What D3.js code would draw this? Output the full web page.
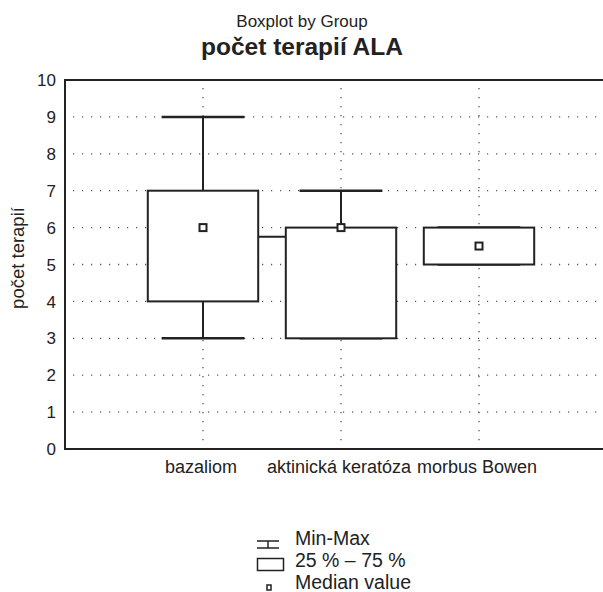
<!DOCTYPE html>
<html>
<head>
<meta charset="utf-8">
<script src="https://cdn.jsdelivr.net/npm/d3@7"></script>
<style>
  body { margin: 0; background: #fff; }
  text { font-family: "Liberation Sans", Arial, sans-serif; fill: #222; }
</style>
</head>
<body>
<script>
// ---------------- data ----------------
var groups = ['bazaliom', 'aktinická keratóza', 'morbus Bowen'];
var mins    = [3, 3, 5];
var q1s     = [4, 3, 5];
var medians = [6, 6, 5.5];
var q3s     = [7, 6, 6];
var maxs    = [9, 7, 6];
var yTicks  = [0, 1, 2, 3, 4, 5, 6, 7, 8, 9, 10];
var connector = [5.75, 5.75]; // short link between group 1 and 2, hidden by the boxes
var legendLabels = ['Min-Max', '25 % \u2013 75 %', 'Median value'];

// ---------------- layout ----------------
var W = 603, H = 592;
var plot = {left: 65, top: 80, right: 617, bottom: 449};

var svg = d3.select('body').append('svg').attr('width', W).attr('height', H);

var x = d3.scaleLinear().domain([0, groups.length + 1]).range([plot.left, plot.right]);
var y = d3.scaleLinear().domain([0, 10]).range([plot.bottom, plot.top]);
var step = x(1) - x(0);

// titles
svg.append('text').attr('x', 302).attr('y', 27).attr('text-anchor', 'middle')
   .style('font-size', '17px').text('Boxplot by Group');
svg.append('text').attr('x', 302).attr('y', 55).attr('text-anchor', 'middle')
   .style('font-size', '24.5px').style('font-weight', 'bold').text('počet terapií ALA');

// grid
var grid = svg.append('g').attr('stroke', '#555').attr('stroke-width', 1.3).attr('stroke-dasharray', '1.2,7.8');
grid.selectAll('line.h').data(yTicks.filter(d => d > 0 && d < 10)).enter().append('line')
    .attr('x1', plot.left + 8).attr('x2', plot.right).attr('y1', d => y(d)).attr('y2', d => y(d));
grid.selectAll('line.v').data(groups).enter().append('line')
    .attr('x1', (d, i) => x(i + 1)).attr('x2', (d, i) => x(i + 1))
    .attr('y1', plot.top + 8).attr('y2', plot.bottom);

// frame
svg.append('rect').attr('x', plot.left).attr('y', plot.top)
   .attr('width', plot.right - plot.left).attr('height', plot.bottom - plot.top)
   .attr('fill', 'none').attr('stroke', '#222').attr('stroke-width', 2);

// y axis labels
svg.append('g').selectAll('text').data(yTicks).enter().append('text')
   .attr('x', 56).attr('y', d => y(d)).attr('dy', '0.36em').attr('text-anchor', 'end')
   .style('font-size', '17px').text(d => d);

svg.append('text').attr('transform', 'translate(24,258) rotate(-90)')
   .attr('text-anchor', 'middle').style('font-size', '18.5px').text('počet terapií');

// x labels
svg.append('g').selectAll('text').data(groups).enter().append('text')
   .attr('x', (d, i) => x(i + 1) - 2).attr('y', 473).attr('text-anchor', 'middle')
   .style('font-size', '18px').text(d => d);

// connector behind the boxes
svg.append('line').attr('x1', x(1)).attr('x2', x(2))
   .attr('y1', y(connector[0])).attr('y2', y(connector[1]))
   .attr('stroke', '#222').attr('stroke-width', 2);

// boxes
var boxW = step * 0.8, capW = step * 0.6;
var bx = svg.append('g').attr('stroke', '#222').attr('stroke-width', 2);
groups.forEach(function(g, i) {
    var cx = x(i + 1);
    bx.append('line').attr('x1', cx).attr('x2', cx).attr('y1', y(maxs[i])).attr('y2', y(q3s[i]));
    bx.append('line').attr('x1', cx).attr('x2', cx).attr('y1', y(q1s[i])).attr('y2', y(mins[i]));
    bx.append('line').attr('x1', cx - capW / 2).attr('x2', cx + capW / 2).attr('y1', y(maxs[i])).attr('y2', y(maxs[i])).attr('stroke-width', 2.5);
    bx.append('line').attr('x1', cx - capW / 2).attr('x2', cx + capW / 2).attr('y1', y(mins[i])).attr('y2', y(mins[i])).attr('stroke-width', 2.5);
    bx.append('rect').attr('x', cx - boxW / 2).attr('y', y(q3s[i]))
      .attr('width', boxW).attr('height', y(q1s[i]) - y(q3s[i])).attr('fill', '#fff');
    bx.append('rect').attr('x', cx - 3.5).attr('y', y(medians[i]) - 3.5)
      .attr('width', 7).attr('height', 7).attr('fill', '#fff');
});

// legend
var lg = svg.append('g').attr('stroke', '#222').attr('stroke-width', 1.5);
lg.append('line').attr('x1', 257).attr('x2', 279).attr('y1', 541).attr('y2', 541);
lg.append('line').attr('x1', 257).attr('x2', 279).attr('y1', 548).attr('y2', 548);
lg.append('line').attr('x1', 268).attr('x2', 268).attr('y1', 541).attr('y2', 548);
lg.append('rect').attr('x', 257.5).attr('y', 558.5).attr('width', 26).attr('height', 12).attr('fill', 'none');
lg.append('rect').attr('x', 267).attr('y', 585).attr('width', 4).attr('height', 5).attr('fill', 'none');
svg.append('g').selectAll('text').data(legendLabels).enter().append('text')
   .attr('x', 295).attr('y', (d, i) => 545 + i * 22)
   .style('font-size', '19.5px').text(d => d);
</script>
</body>
</html>
